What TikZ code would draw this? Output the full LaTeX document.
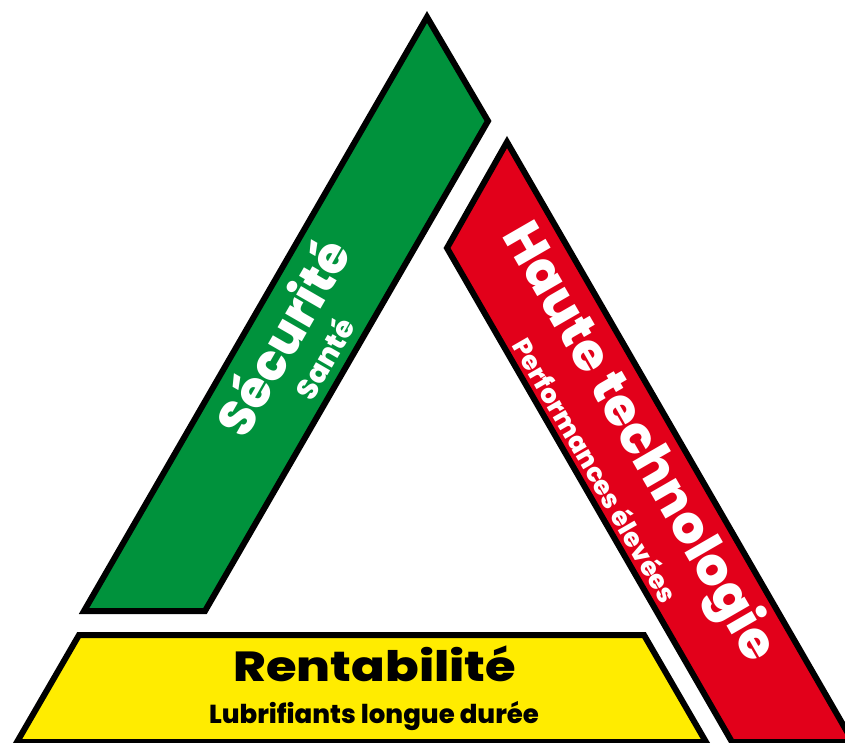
\documentclass[tikz,border=0pt]{standalone}
\usepackage{fontspec}
\setmainfont{Poppins}
\newfontfamily\heavyfont{Poppins ExtraBold}
\definecolor{bandgreen}{RGB}{0,146,60}
\definecolor{bandred}{RGB}{226,0,26}
\definecolor{bandyellow}{RGB}{255,236,0}
\begin{document}
\begin{tikzpicture}[x=1pt,y=-1pt,
  band/.style={draw=black,line width=6pt,line join=miter},
  lbl/.style={inner sep=0pt,font=\heavyfont\fontsize{#1}{#1}\selectfont},
  wlbl/.style={lbl=#1,text=white}]
\useasboundingbox (0,0) rectangle (845,742);
\clip (0,0) rectangle (845,742);
\fill[white] (0,0) rectangle (845,742);
% bands
\draw[band,fill=bandgreen] (427,17) -- (488,121) -- (205,611) -- (84,611) -- cycle;
\draw[band,fill=bandred] (507,142) -- (853,742) -- (732,742) -- (447,248) -- cycle;
\draw[band,fill=bandyellow] (79,635) -- (644,635) -- (706,742) -- (17,742) -- cycle;
% labels
\node[wlbl=50,rotate=60] (secu) at (281,336) {Sécurité};
\node[wlbl=29,rotate=60] (sante) at (324,358) {Santé};
\node[wlbl=52,rotate=-60] (haute) at (638,443) {Haute technologie};
\node[wlbl=26,rotate=-60] (perf) at (596,470) {Performances élevées};
\node[lbl=42,xscale=1.18] (rent) at (375,664) {Rentabilité};
\node[lbl=26] (lub) at (374,716) {Lubrifiants longue durée};
\end{tikzpicture}
\end{document}
